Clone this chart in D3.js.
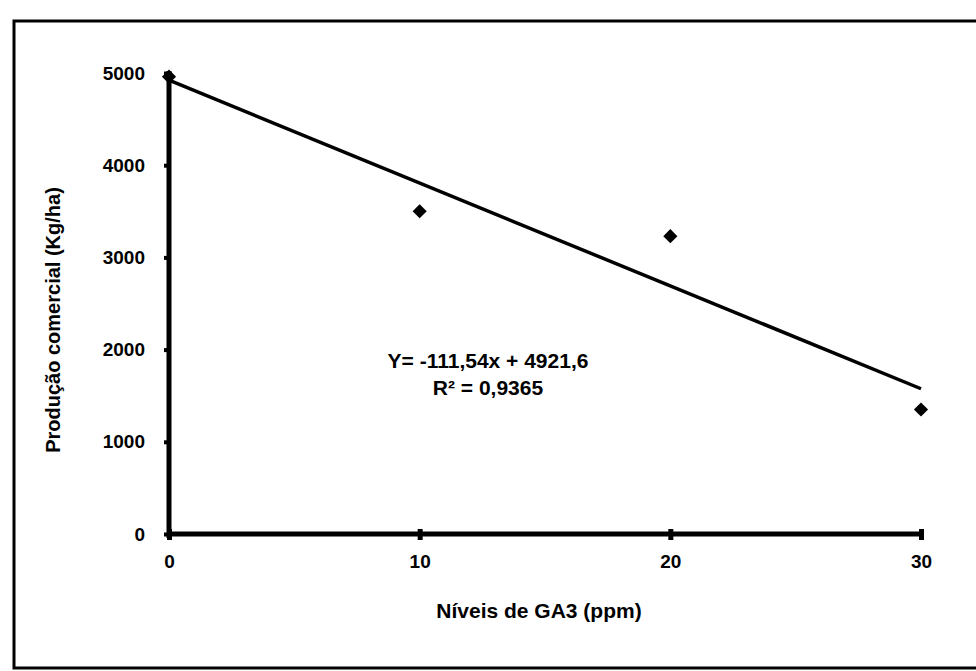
<!DOCTYPE html>
<html>
<head>
<meta charset="utf-8">
<script src="https://cdn.jsdelivr.net/npm/d3@7/dist/d3.min.js"></script>
<style>
  html, body { margin: 0; padding: 0; background: #fff; }
  svg { display: block; }
  text { font-family: "Liberation Sans", Arial, sans-serif; fill: #000; }
</style>
</head>
<body>
<svg id="chart" width="976" height="671"></svg>
<script>
// GA3 levels (ppm) and commercial yield (kg/ha)
const gaLevels = [0, 10, 20, 30];
const yieldValues = [4960, 3500, 3230, 1350];
const xTicks = [0, 10, 20, 30];
const yTicks = [0, 1000, 2000, 3000, 4000, 5000];
// fitted linear trend
const slope = -111.54;
const intercept = 4921.6;
const eqLines = ["Y= -111,54x + 4921,6", "R\u00b2 = 0,9365"];

const svg = d3.select("#chart");

// outer frame (left, top, bottom edges)
svg.append("path")
  .attr("d", "M976,21 L14,21 L14,668 L976,668")
  .attr("fill", "none").attr("stroke", "#000").attr("stroke-width", 3);

const x = d3.scaleLinear().domain([0, 30]).range([169, 921]);
const y = d3.scaleLinear().domain([0, 5000]).range([534, 73]);

const tickFont = sel => sel
  .attr("font-family", "Liberation Sans, Arial, sans-serif")
  .attr("font-size", 19).attr("font-weight", "bold").attr("fill", "#000");

// y axis
const yAxis = svg.append("g").attr("transform", `translate(${x(0)},0)`)
  .call(d3.axisLeft(y).tickValues(yTicks).tickSize(5).tickPadding(19).tickFormat(d3.format("d")));
yAxis.select(".domain").attr("stroke", "#000").attr("stroke-width", 5)
  .attr("d", `M0,${y(0) + 4}V${y(5000) - 2}`);
yAxis.selectAll(".tick line").attr("stroke", "#000").attr("stroke-width", 4);
yAxis.selectAll(".tick text").call(tickFont);

// x axis
const xAxis = svg.append("g").attr("transform", `translate(0,${y(0)})`)
  .call(d3.axisBottom(x).tickValues(xTicks).tickSize(6).tickPadding(15).tickFormat(d3.format("d")));
xAxis.select(".domain").attr("stroke", "#000").attr("stroke-width", 5)
  .attr("d", `M${x(0)},0H${x(30) + 2}`);
xAxis.selectAll(".tick line").attr("stroke", "#000").attr("stroke-width", 5)
  .attr("y1", -5);
xAxis.selectAll(".tick text").call(tickFont);

// trend line
svg.append("line")
  .attr("x1", x(0)).attr("y1", y(intercept))
  .attr("x2", x(30)).attr("y2", y(intercept + slope * 30))
  .attr("stroke", "#000").attr("stroke-width", 3.5);

// observed points
svg.append("g").selectAll("path")
  .data(gaLevels.map((g, i) => [g, yieldValues[i]]))
  .join("path")
  .attr("transform", d => `translate(${x(d[0])},${y(d[1])}) rotate(45)`)
  .attr("d", d3.symbol().type(d3.symbolSquare).size(100))
  .attr("fill", "#000");

// regression equation
svg.append("g").selectAll("text")
  .data(eqLines)
  .join("text")
  .attr("x", 488).attr("y", (d, i) => 368 + i * 27)
  .attr("text-anchor", "middle")
  .attr("font-size", 21).attr("font-weight", "bold")
  .text(d => d);

// axis titles
svg.append("text")
  .attr("x", 539).attr("y", 618)
  .attr("text-anchor", "middle")
  .attr("font-size", 21).attr("font-weight", "bold")
  .text("Níveis de GA3 (ppm)");

svg.append("text")
  .attr("transform", "translate(60,320) rotate(-90)")
  .attr("text-anchor", "middle")
  .attr("font-size", 20).attr("font-weight", "bold")
  .text("Produção comercial (Kg/ha)");
</script>
</body>
</html>
